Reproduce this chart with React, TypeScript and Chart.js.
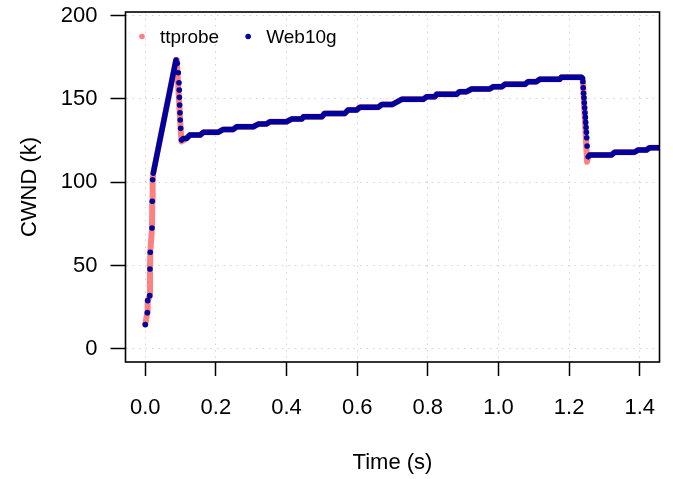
import React, { useEffect, useRef } from "react";
import { Chart, registerables } from "chart.js";

Chart.register(...registerables);

// ---- axis ticks ----
const xTicks = [0, 0.2, 0.4, 0.6, 0.8, 1.0, 1.2, 1.4];
const yTicks = [0, 50, 100, 150, 200];

// ---- ttprobe (time s, CWND k) ----
const ttprobeT = [
  0, 0.0057, 0.0068, 0.0125, 0.0133, 0.0141, 0.019, 0.0198, 0.0209, 0.0226,
  0.087, 0.0895, 0.1005, 0.1025,
  0.117, 0.126, 0.155, 0.165, 0.207, 0.221, 0.249, 0.259, 0.306, 0.32, 0.343,
  0.353, 0.4, 0.414, 0.443, 0.448, 0.5, 0.508, 0.565, 0.574, 0.598, 0.608,
  0.66, 0.67, 0.7, 0.726, 0.787, 0.797, 0.82, 0.825, 0.881, 0.89, 0.91, 0.924,
  0.975, 0.985, 1.01, 1.018, 1.075, 1.084, 1.107, 1.117, 1.173, 1.178, 1.235,
  1.239, 1.251, 1.254, 1.258, 1.32, 1.329, 1.385, 1.395, 1.419, 1.428, 1.47,
];
const ttprobeY = [
  14.8, 21.8, 29.0, 32.0, 48.0, 58.0, 72.6, 88.6, 101.5, 105.4,
  173.3, 171.5, 131.0, 124.5,
  126.3, 128.3, 128.3, 130.0, 130.0, 131.7, 131.7, 133.3, 133.3, 134.9, 134.9,
  136.3, 136.3, 137.9, 137.9, 139.3, 139.3, 141.3, 141.3, 143.3, 143.3, 145.0,
  145.0, 146.7, 146.7, 149.7, 149.7, 151.3, 151.3, 152.7, 152.7, 154.3, 154.3, 155.9,
  155.9, 157.3, 157.3, 158.7, 158.7, 160.3, 160.3, 161.7, 161.7, 162.9, 162.9,
  161.0, 112.3, 115.3, 116.3, 116.3, 118.0, 118.0, 119.3, 119.3, 120.7, 120.7,
];

// ---- Web10g: continuous (densely sampled) stretches, null = gap ----
const web10gTraceT = [
  0.0226, 0.087, 0.0875,
  0.1, 0.1025, 0.108, 0.117, 0.126, 0.155, 0.165, 0.207, 0.221, 0.249, 0.259, 0.306,
  0.32, 0.343, 0.353, 0.4, 0.414, 0.443, 0.448, 0.5, 0.508, 0.565, 0.574, 0.598,
  0.608, 0.66, 0.67, 0.7, 0.726, 0.787, 0.797, 0.82, 0.825, 0.881, 0.89, 0.91,
  0.924, 0.975, 0.985, 1.01, 1.018, 1.075, 1.084, 1.107, 1.117, 1.173, 1.178,
  1.235, 1.238, 1.24,
  1.254, 1.258, 1.32, 1.329, 1.385, 1.395, 1.419, 1.428, 1.47,
];
const web10gTraceY = [
  105.4, 173.3, null,
  null, 125.3, 126.3, 126.3, 128.3, 128.3, 130.0, 130.0, 131.7, 131.7, 133.3, 133.3,
  134.9, 134.9, 136.3, 136.3, 137.9, 137.9, 139.3, 139.3, 141.3, 141.3, 143.3, 143.3,
  145.0, 145.0, 146.7, 146.7, 149.7, 149.7, 151.3, 151.3, 152.7, 152.7, 154.3, 154.3,
  155.9, 155.9, 157.3, 157.3, 158.7, 158.7, 160.3, 160.3, 161.7, 161.7, 162.9,
  162.9, 162.3, null,
  115.3, 116.3, 116.3, 118.0, 118.0, 119.3, 119.3, 120.7, 120.7,
];

// ---- Web10g: separate samples on the steep parts ----
const web10gDotT = [
  0, 0.0057, 0.0068, 0.0125, 0.0133, 0.0141, 0.019, 0.0198, 0.0209,
  0.0906, 0.0934, 0.0954, 0.0962, 0.0966, 0.0973, 0.0982, 0.099, 0.1002,
  1.239, 1.24, 1.241, 1.242, 1.243, 1.244, 1.245, 1.246, 1.247, 1.248, 1.249, 1.25, 1.251,
];
const web10gDotY = [
  14.6, 21.8, 29.0, 32.0, 48.0, 58.0, 72.6, 88.6, 101.5,
  171.3, 165.7, 159.7, 155.3, 150.9, 146.3, 141.7, 137.3, 132.4,
  160.3, 156.7, 153.3, 150.7, 147.7, 144.7, 141.7, 138.9, 135.9, 132.9, 130.0, 126.7, 121.7,
];

const PINK = "#FF8080";
const BLUE = "#00009C";
const FONT = "'Liberation Sans', Arial, Helvetica, sans-serif";

const zip = (t: number[], y: (number | null)[]) => t.map((v, i) => ({ x: v, y: y[i] }));

export default function App() {
  const ref = useRef<HTMLCanvasElement | null>(null);

  useEffect(() => {
    const canvas = ref.current;
    if (!canvas) return;

    const boxPlugin = {
      id: "rbox",
      afterDraw(chart: any) {
        const { ctx, chartArea: a } = chart;
        ctx.save();
        ctx.strokeStyle = "#000";
        ctx.lineWidth = 1.6;
        ctx.strokeRect(a.left, a.top, a.right - a.left, a.bottom - a.top);
        ctx.restore();
      },
    };

    const legendPlugin = {
      id: "rlegend",
      afterDraw(chart: any) {
        const { ctx, chartArea: a } = chart;
        const seen = new Set<string>();
        const items: { label: string; color: string }[] = [];
        chart.data.datasets.forEach((d: any) => {
          if (!seen.has(d.label)) {
            seen.add(d.label);
            items.push({ label: d.label, color: d.legendColor });
          }
        });
        ctx.save();
        ctx.font = `19px ${FONT}`;
        ctx.textBaseline = "middle";
        ctx.textAlign = "left";
        let x = a.left + 16.5;
        const y = a.top + 24.5;
        items.forEach((it) => {
          ctx.fillStyle = it.color;
          ctx.beginPath();
          ctx.arc(x, y, 2.8, 0, Math.PI * 2);
          ctx.fill();
          ctx.fillStyle = "#000";
          ctx.fillText(it.label, x + 18, y + 1);
          x += 18 + ctx.measureText(it.label).width + 29;
        });
        ctx.restore();
      },
    };

    const chart = new Chart(canvas, {
      type: "line",
      data: {
        datasets: [
          {
            label: "ttprobe",
            legendColor: PINK,
            data: zip(ttprobeT, ttprobeY),
            borderColor: PINK,
            backgroundColor: PINK,
            borderWidth: 6,
            pointRadius: 0,
            borderCapStyle: "round",
            borderJoinStyle: "round",
            clip: 0,
            order: 3,
          } as any,
          {
            label: "Web10g",
            legendColor: BLUE,
            data: zip(web10gTraceT, web10gTraceY),
            borderColor: BLUE,
            backgroundColor: BLUE,
            borderWidth: 5.5,
            pointRadius: 0,
            spanGaps: false,
            borderCapStyle: "round",
            borderJoinStyle: "round",
            clip: 0,
            order: 2,
          } as any,
          {
            label: "Web10g",
            legendColor: BLUE,
            data: zip(web10gDotT, web10gDotY),
            showLine: false,
            pointRadius: 2.8,
            pointBorderWidth: 0,
            pointBackgroundColor: BLUE,
            pointBorderColor: BLUE,
            clip: 0,
            order: 1,
          } as any,
        ],
      },
      options: {
        animation: false,
        responsive: false,
        devicePixelRatio: 1,
        parsing: false as any,
        layout: { padding: { top: 12, right: 13.5, left: 0, bottom: 0 } },
        plugins: {
          legend: { display: false },
          tooltip: { enabled: false },
        },
        elements: { line: { tension: 0 } },
        scales: {
          x: {
            type: "linear",
            min: -0.056,
            max: 1.456,
            afterBuildTicks: (s: any) => {
              s.ticks = xTicks.map((v) => ({ value: v }));
            },
            afterFit: (s: any) => {
              s.height = 117;
              s.paddingLeft = 0;
              s.paddingRight = 0;
            },
            ticks: {
              autoSkip: false,
              maxRotation: 0,
              padding: 19,
              color: "#000",
              font: { family: FONT, size: 22 },
              callback: (v: any) => Number(v).toFixed(1),
            },
            grid: {
              color: "#d3d3d3",
              lineWidth: 1,
              drawTicks: true,
              tickLength: 14,
              tickColor: "#000",
              tickWidth: 1.5,
            },
            border: { display: false, dash: [1.5, 5] },
            title: {
              display: true,
              text: "Time (s)",
              color: "#000",
              font: { family: FONT, size: 22 },
              padding: { top: 0, bottom: 3 },
            },
          },
          y: {
            type: "linear",
            min: -7.8,
            max: 202.1,
            afterBuildTicks: (s: any) => {
              s.ticks = yTicks.map((v) => ({ value: v }));
            },
            afterFit: (s: any) => {
              s.width = 125.5;
              s.paddingTop = 0;
              s.paddingBottom = 0;
            },
            ticks: {
              autoSkip: false,
              padding: 13,
              color: "#000",
              font: { family: FONT, size: 22 },
              callback: (v: any) => String(v),
            },
            grid: {
              color: "#d3d3d3",
              lineWidth: 1,
              drawTicks: true,
              tickLength: 15,
              tickColor: "#000",
              tickWidth: 1.5,
            },
            border: { display: false, dash: [1.5, 5] },
            title: {
              display: true,
              text: "CWND (k)",
              color: "#000",
              font: { family: FONT, size: 22 },
              padding: { top: 17, bottom: 0 },
            },
          },
        },
      },
      plugins: [boxPlugin, legendPlugin],
    } as any);

    return () => chart.destroy();
  }, []);

  return (
    <div style={{ position: "absolute", left: 0, top: 0, width: 673, height: 479, background: "#fff" }}>
      <canvas ref={ref} width={673} height={479} style={{ display: "block", width: 673, height: 479 }} />
    </div>
  );
}
